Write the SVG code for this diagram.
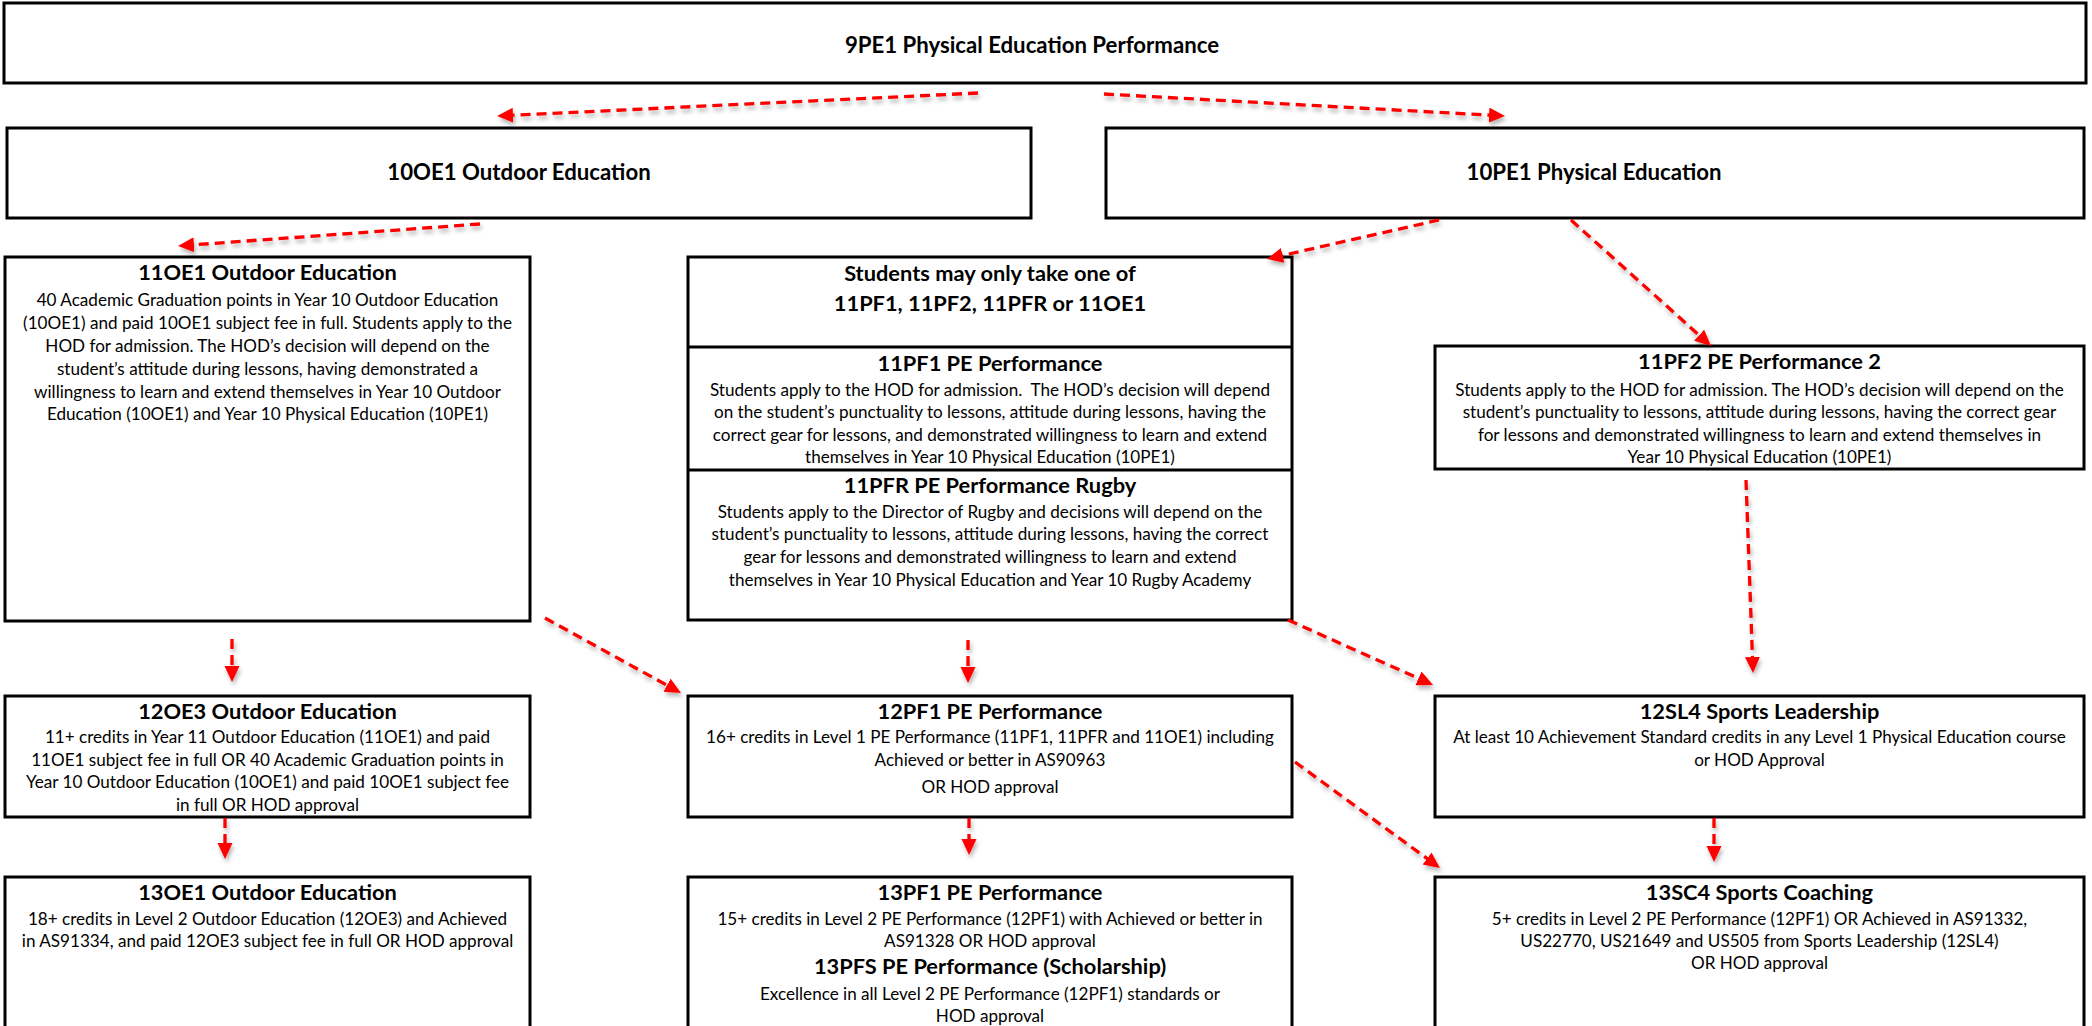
<svg xmlns="http://www.w3.org/2000/svg" width="2092" height="1026" viewBox="0 0 2092 1026">
<defs>
<style>
.box{fill:#fff;stroke:#000;stroke-width:3}
.div{stroke:#000;stroke-width:3}
.t{font-family:Lato,"Liberation Sans",sans-serif;font-weight:bold;font-size:21.8px;fill:#000;text-anchor:middle}
.tt{font-family:Lato,"Liberation Sans",sans-serif;font-weight:bold;font-size:22.2px;fill:#000;text-anchor:middle}
.b{font-family:Lato,"Liberation Sans",sans-serif;font-size:17.1px;fill:#000;text-anchor:middle}
.c{fill:none;stroke:#ff0000;stroke-width:3.3;stroke-dasharray:10 6;marker-end:url(#ah)}
</style>
<marker id="ah" markerUnits="userSpaceOnUse" markerWidth="18" markerHeight="16" refX="4" refY="7.5" orient="auto">
<path d="M0,0 L16,7.5 L0,15 Z" fill="#ff0000"/>
</marker>
<filter id="sh" x="-10%" y="-10%" width="120%" height="130%">
<feDropShadow dx="1.5" dy="3.5" stdDeviation="2" flood-color="#000" flood-opacity="0.3"/>
</filter>
</defs>
<rect width="2092" height="1026" fill="#fff"/>

<g id="n-9pe1"><rect class="box" x="4" y="3" width="2082" height="80"/><text class="tt" x="1032" y="53">9PE1 Physical Education Performance</text></g>
<g id="n-10oe1"><rect class="box" x="7" y="128" width="1024" height="90"/><text class="tt" x="519" y="180">10OE1 Outdoor Education</text></g>
<g id="n-10pe1"><rect class="box" x="1106" y="128" width="978" height="90"/><text class="tt" x="1594" y="180">10PE1 Physical Education</text></g>

<g id="n-11oe1"><rect class="box" x="5" y="257" width="525" height="364"/>
<text class="t" x="267.5" y="280">11OE1 Outdoor Education</text>
<text class="b" x="267.5" y="306">40 Academic Graduation points in Year 10 Outdoor Education</text>
<text class="b" x="267.5" y="329">(10OE1) and paid 10OE1 subject fee in full. Students apply to the</text>
<text class="b" x="267.5" y="352">HOD for admission. The HOD’s decision will depend on the</text>
<text class="b" x="267.5" y="375">student’s attitude during lessons, having demonstrated a</text>
<text class="b" x="267.5" y="398">willingness to learn and extend themselves in Year 10 Outdoor</text>
<text class="b" x="267.5" y="420">Education (10OE1) and Year 10 Physical Education (10PE1)</text>
</g>

<g id="n-choice"><rect class="box" x="688" y="257" width="604" height="363"/>
<text class="t" x="990" y="281">Students may only take one of</text>
<text class="t" x="990" y="311">11PF1, 11PF2, 11PFR or 11OE1</text>
<line class="div" x1="688" y1="347" x2="1292" y2="347"/>
<line class="div" x1="688" y1="470" x2="1292" y2="470"/>
</g>
<g id="n-11pf1">
<text class="t" x="990" y="371">11PF1 PE Performance</text>
<text class="b" x="990" y="396" xml:space="preserve">Students apply to the HOD for admission.  The HOD’s decision will depend</text>
<text class="b" x="990" y="418">on the student’s punctuality to lessons, attitude during lessons, having the</text>
<text class="b" x="990" y="441">correct gear for lessons, and demonstrated willingness to learn and extend</text>
<text class="b" x="990" y="463">themselves in Year 10 Physical Education (10PE1)</text>
</g>
<g id="n-11pfr">
<text class="t" x="990" y="493">11PFR PE Performance Rugby</text>
<text class="b" x="990" y="518">Students apply to the Director of Rugby and decisions will depend on the</text>
<text class="b" x="990" y="540">student’s punctuality to lessons, attitude during lessons, having the correct</text>
<text class="b" x="990" y="563">gear for lessons and demonstrated willingness to learn and extend</text>
<text class="b" x="990" y="586">themselves in Year 10 Physical Education and Year 10 Rugby Academy</text>
</g>

<g id="n-11pf2"><rect class="box" x="1435" y="346" width="649" height="123"/>
<text class="t" x="1759.5" y="369">11PF2 PE Performance 2</text>
<text class="b" x="1759.5" y="396">Students apply to the HOD for admission. The HOD’s decision will depend on the</text>
<text class="b" x="1759.5" y="418">student’s punctuality to lessons, attitude during lessons, having the correct gear</text>
<text class="b" x="1759.5" y="441">for lessons and demonstrated willingness to learn and extend themselves in</text>
<text class="b" x="1759.5" y="463">Year 10 Physical Education (10PE1)</text>
</g>

<g id="n-12oe3"><rect class="box" x="5" y="696" width="525" height="121"/>
<text class="t" x="267.5" y="719">12OE3 Outdoor Education</text>
<text class="b" x="267.5" y="743">11+ credits in Year 11 Outdoor Education (11OE1) and paid</text>
<text class="b" x="267.5" y="766">11OE1 subject fee in full OR 40 Academic Graduation points in</text>
<text class="b" x="267.5" y="788">Year 10 Outdoor Education (10OE1) and paid 10OE1 subject fee</text>
<text class="b" x="267.5" y="811">in full OR HOD approval</text>
</g>

<g id="n-12pf1"><rect class="box" x="688" y="696" width="604" height="121"/>
<text class="t" x="990" y="719">12PF1 PE Performance</text>
<text class="b" x="990" y="743">16+ credits in Level 1 PE Performance (11PF1, 11PFR and 11OE1) including</text>
<text class="b" x="990" y="766">Achieved or better in AS90963</text>
<text class="b" x="990" y="793">OR HOD approval</text>
</g>

<g id="n-12sl4"><rect class="box" x="1435" y="696" width="649" height="121"/>
<text class="t" x="1759.5" y="719">12SL4 Sports Leadership</text>
<text class="b" x="1759.5" y="743">At least 10 Achievement Standard credits in any Level 1 Physical Education course</text>
<text class="b" x="1759.5" y="766">or HOD Approval</text>
</g>

<g id="n-13oe1"><rect class="box" x="5" y="877" width="525" height="170"/>
<text class="t" x="267.5" y="900">13OE1 Outdoor Education</text>
<text class="b" x="267.5" y="925">18+ credits in Level 2 Outdoor Education (12OE3) and Achieved</text>
<text class="b" x="267.5" y="947">in AS91334, and paid 12OE3 subject fee in full OR HOD approval</text>
</g>

<g id="n-13pf1"><rect class="box" x="688" y="877" width="604" height="170"/>
<text class="t" x="990" y="900">13PF1 PE Performance</text>
<text class="b" x="990" y="925">15+ credits in Level 2 PE Performance (12PF1) with Achieved or better in</text>
<text class="b" x="990" y="947">AS91328 OR HOD approval</text>
<text class="t" x="990" y="974">13PFS PE Performance (Scholarship)</text>
<text class="b" x="990" y="1000">Excellence in all Level 2 PE Performance (12PF1) standards or</text>
<text class="b" x="990" y="1022">HOD approval</text>
</g>

<g id="n-13sc4"><rect class="box" x="1435" y="877" width="649" height="170"/>
<text class="t" x="1759.5" y="900">13SC4 Sports Coaching</text>
<text class="b" x="1759.5" y="925">5+ credits in Level 2 PE Performance (12PF1) OR Achieved in AS91332,</text>
<text class="b" x="1759.5" y="947">US22770, US21649 and US505 from Sports Leadership (12SL4)</text>
<text class="b" x="1759.5" y="969">OR HOD approval</text>
</g>

<g id="connectors" filter="url(#sh)">
<path class="c" d="M978,93 L509,115.4"/>
<path class="c" d="M1104,94 L1493,115.3"/>
<path class="c" d="M480,224 L190,245.1"/>
<path class="c" d="M1439,220 L1278.7,256.3"/>
<path class="c" d="M1571,220 L1702.1,337.9"/>
<path class="c" d="M1746,480 L1752.6,661"/>
<path class="c" d="M232,639 L232,670"/>
<path class="c" d="M545,618 L670.5,687.2"/>
<path class="c" d="M968,640 L968,671"/>
<path class="c" d="M1288,620 L1422.1,680"/>
<path class="c" d="M225,818 L225,847"/>
<path class="c" d="M969,818 L969,843"/>
<path class="c" d="M1295,762 L1430.3,860.9"/>
<path class="c" d="M1714,818 L1714,850"/>
</g>
</svg>
